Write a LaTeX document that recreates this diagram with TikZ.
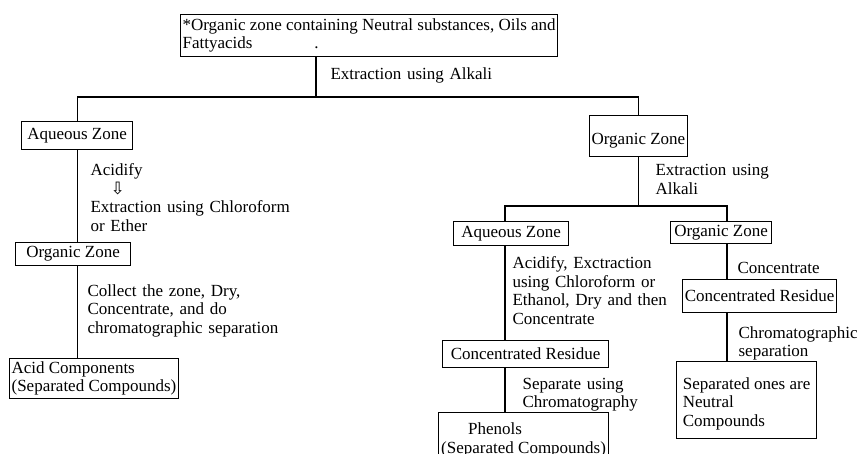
\documentclass[tikz,border=0pt]{standalone}
\usepackage{fontspec}
\setmainfont{Liberation Serif}
\newfontfamily\arrowfont{DejaVu Sans}
\usetikzlibrary{positioning}
\tikzset{
  zone/.style={draw, anchor=north west, align=left, inner sep=2pt},
  note/.style={anchor=base west, align=left, inner sep=0pt, text width=230pt},
}

\begin{document}
\begin{tikzpicture}[x=1pt, y=-1pt, line width=1.2pt, font=\fontsize{17}{18.5}\selectfont]
  \useasboundingbox (0,0) rectangle (859,454);
  \clip (0,0) rectangle (859,454);
  \node[zone, minimum width=371pt, minimum height=42pt] (top) at (180,14) {*Organic zone containing Neutral substances, Oils and\\Fattyacids\hspace{62pt}.};
  \node[zone, minimum width=111pt, minimum height=28pt] (aqL)   at (21,121)  {Aqueous Zone};
  \node[zone, minimum width=115pt, minimum height=23pt] (orgL)  at (15,242)  {Organic Zone};
  \node[zone, minimum width=168pt, minimum height=40pt] (acid)  at (9,358)   {Acid Components\\(Separated Compounds)};
  \node[zone, minimum width=97pt,  minimum height=41pt, text height=20pt] (orgR) at (589,115) {Organic Zone};
  \node[zone, minimum width=115pt, minimum height=24pt] (aqR)   at (453,221) {Aqueous Zone};
  \node[zone, minimum width=101pt, minimum height=22pt] (orgRR) at (670,221) {Organic Zone};
  \node[zone, minimum width=166pt, minimum height=27pt] (resM)  at (442,340) {Concentrated Residue};
  \node[zone, minimum width=154pt, minimum height=33pt] (resR)  at (682,279) {Concentrated Residue};
  \node[zone, minimum width=170pt, minimum height=55pt] (phen)  at (438,412) {\hspace*{27pt}Phenols\\(Separated Compounds)};
  \node[zone, minimum width=140pt, minimum height=77pt] (sepR)  at (676,361) {\mbox{}\\Separated ones are\\Neutral\\Compounds};

  \node[note] (l1) at (330,80)  {Extraction using Alkali};
  \node[note] (l2) at (90,176)  {Acidify\\\hspace*{20pt}{\arrowfont\fontsize{17}{17}\selectfont ⇩}\\Extraction using Chloroform\\or Ether};
  \node[note] (l3) at (87,296)  {Collect the zone, Dry,\\Concentrate, and do\\chromatographic separation};
  \node[note] (l4) at (655,176) {Extraction using\\Alkali};
  \node[note] (l5) at (512,269) {Acidify, Exctraction\\using Chloroform or\\Ethanol, Dry and then\\Concentrate};
  \node[note] (l6) at (737,274) {Concentrate};
  \node[note] (l7) at (522,389) {Separate using\\Chromatography};
  \node[note] (l8) at (738,338) {Chromatographic\\separation};

  \coordinate (s1)  at (316,97);
  \coordinate (s2a) at (505,206);
  \coordinate (s2b) at (727,206);
  \draw (top.south -| s1) -- (s1);
  \draw (aqL.north) |- (s1) -| (orgR.north);
  \draw (orgR.south) -- (orgR.south |- s2a);
  \draw (s2a |- aqR.north) -- (s2a) -- (s2b) -- (s2b |- orgRR.north);
  \foreach \x/\a/\b in {aqL/aqL/orgL, aqL/orgL/acid, s2a/aqR/resM, s2a/resM/phen, s2b/orgRR/resR, s2b/resR/sepR}
    \draw (\x |- \a.south) -- (\x |- \b.north);
\end{tikzpicture}
\end{document}
